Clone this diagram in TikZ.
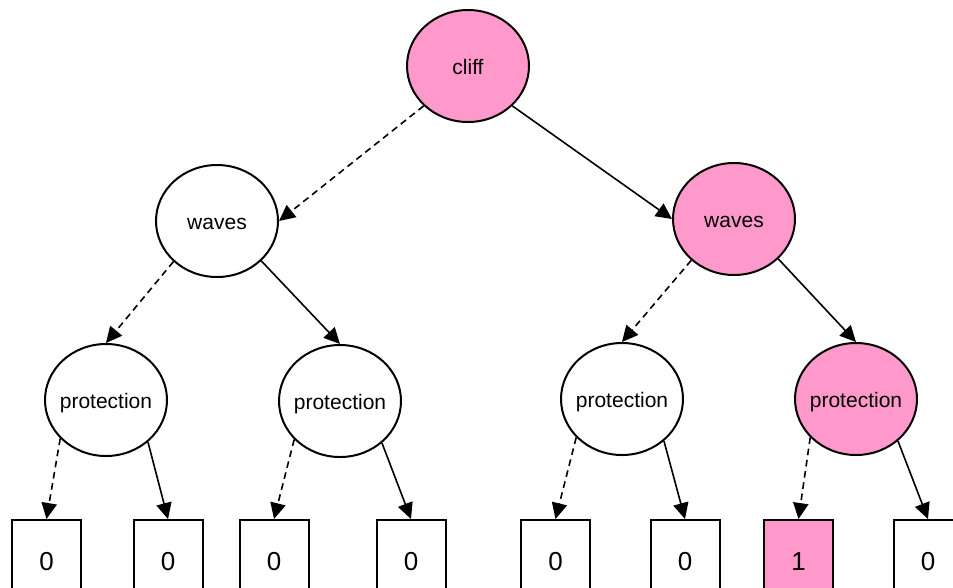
\documentclass[tikz,border=0pt]{standalone}
\usepackage{fontspec}
\setmainfont{Liberation Sans}
\usepackage{xcolor}
\usetikzlibrary{shapes.geometric, arrows.meta}
\definecolor{hotpink}{RGB}{255,153,204}

\begin{document}
\begin{tikzpicture}[x=0.75pt, y=-0.75pt,
    bubble/.style={draw, ellipse, line width=1.5pt, minimum width=91.5pt, minimum height=84pt, inner sep=0pt},
    leaf/.style={draw, rectangle, line width=1.5pt, minimum width=51.75pt, minimum height=63pt, inner sep=0pt, font=\fontsize{19.5}{22}\selectfont},
    every label/.style={font=\fontsize{15.75}{18}\selectfont, inner sep=0pt, text height=15pt, text depth=3pt},
    hiedge/.style={-{Triangle[length=12pt, width=11.5pt]}, line width=1.2pt},
    loedge/.style={hiedge, dash pattern=on 5pt off 3.5pt}]
    \useasboundingbox (0,0) rectangle (953,587);

    % Root
    \node[bubble, fill=hotpink, label=center:cliff] (cliff) at (468,66) {};

    % Second level
    \node[bubble, label=center:waves] (wl) at (217,221) {};
    \node[bubble, fill=hotpink, label=center:waves] (wr) at (734,219) {};

    % Third level
    \node[bubble, label=center:protection] (pa) at (106,400) {};
    \node[bubble, label=center:protection] (pb) at (340,401) {};
    \node[bubble, label=center:protection] (pc) at (622,399) {};
    \node[bubble, fill=hotpink, label=center:protection] (pd) at (856,399) {};

    % Leaves
    \node[leaf] (b1) at (46.5,562) {0};
    \node[leaf] (b2) at (168,562) {0};
    \node[leaf] (b3) at (274,562) {0};
    \node[leaf] (b4) at (411,562) {0};
    \node[leaf] (b5) at (555.5,562) {0};
    \node[leaf] (b6) at (685,562) {0};
    \node[leaf, fill=hotpink] (b7) at (798.5,562) {1};
    \node[leaf] (b8) at (928,562) {0};

    % Edges
    \draw[loedge] (cliff.222) -- (wl.east);
    \draw[hiedge] (cliff.318) -- (wr.west);

    \draw[loedge] (wl.223) -- (pa.north);
    \draw[hiedge] (wl.318) -- (pb.north);
    \draw[loedge] (wr.224) -- (pc.north);
    \draw[hiedge] (wr.318) -- (pd.north);

    \draw[loedge] (pa.220) -- (b1.north);
    \draw[hiedge] (pa.315) -- (b2.north);
    \draw[loedge] (pb.220) -- (b3.north);
    \draw[hiedge] (pb.315) -- (b4.north);
    \draw[loedge] (pc.220) -- (b5.north);
    \draw[hiedge] (pc.315) -- (b6.north);
    \draw[loedge] (pd.220) -- (b7.north);
    \draw[hiedge] (pd.315) -- (b8.north);

\end{tikzpicture}
\end{document}
